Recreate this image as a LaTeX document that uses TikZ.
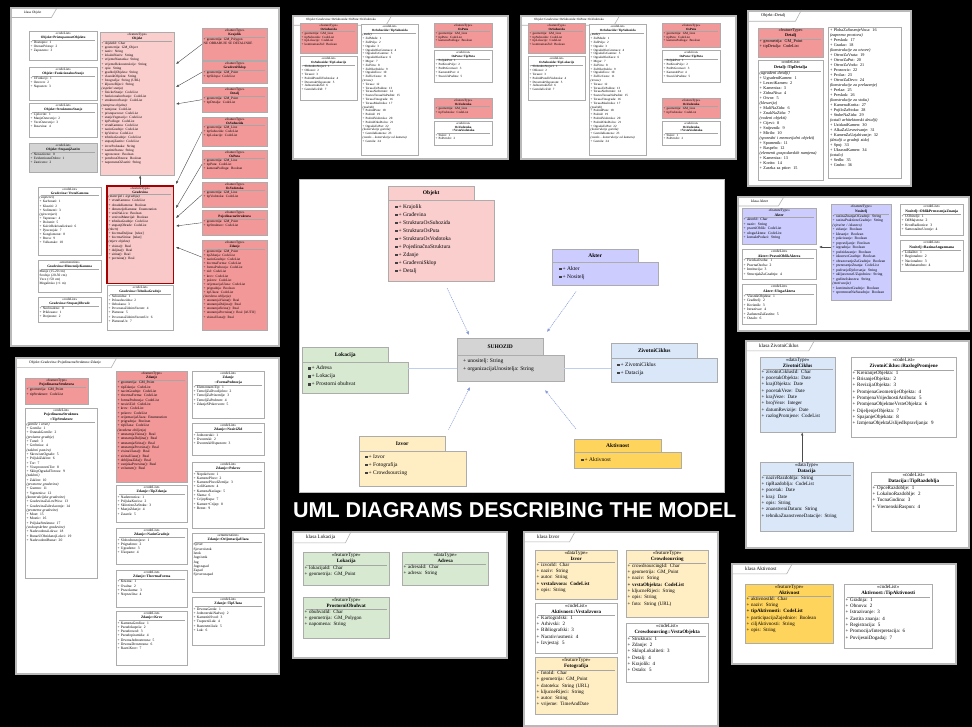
\documentclass[tikz,border=0pt]{standalone}
\usepackage{fontspec}
\setmainfont{Liberation Serif}
\newfontfamily\titlefont{Liberation Sans}
\usetikzlibrary{positioning, arrows.meta}

\definecolor{objpink}{RGB}{251,206,206}
\definecolor{featred}{RGB}{243,152,152}
\definecolor{lightred}{RGB}{249,200,200}
\definecolor{akterlav}{RGB}{204,204,255}
\definecolor{suhgray}{RGB}{212,212,212}
\definecolor{lokgreen}{RGB}{216,233,210}
\definecolor{zivblue}{RGB}{218,231,248}
\definecolor{izvyel}{RGB}{255,238,196}
\definecolor{aktgold}{RGB}{255,212,92}
\definecolor{depblue}{RGB}{80,110,200}
\definecolor{linkblue}{RGB}{190,208,235}

\newcommand\pkgico{\textcolor{black!75}{\rule[0.3pt]{2.6pt}{2.2pt}}\,}

\begin{document}
\begin{tikzpicture}[x=1pt, y=-1pt,
  panel/.style={draw=gray!55, line width=1.6pt, fill=white, anchor=north west, inner sep=0pt},
  pnltab/.style={anchor=north west, inner xsep=14pt, inner ysep=3.5pt},
  pnlline/.style={draw=gray!60, line width=0.6pt},
  clsbox/.style={draw=gray!65, anchor=north west, inner sep=0pt},
  clshead/.style={anchor=north, align=center, inner sep=0.8pt},
  clsitems/.style={anchor=north, align=left, inner sep=0.8pt},
  clsrule/.style={draw=gray!70, line width=0.3pt},
  gen/.style={draw=black!70, line width=0.4pt, -{Latex[length=3pt, width=2.4pt]}},
  pkgtab/.style={draw=gray!65, anchor=north west, inner sep=0pt, font=\fontsize{5.5}{6}\selectfont\bfseries},
  pkgbody/.style={draw=gray!65, anchor=north west, inner sep=0pt},
  pkgitems/.style={anchor=north west, align=left, inner sep=0pt},
  dep/.style={draw=depblue!70, line width=0.5pt, dash pattern=on 1.2pt off 0.8pt, -{Latex[length=3.5pt, width=3pt]}},
  link/.style={draw=linkblue, line width=0.8pt}
]
  % panel frame with its name tab
  \def\pnl#1#2#3#4#5{%
    \node[panel, minimum width=#3, minimum height=#4] (#1) at (#2) {};
    \node[pnltab] (#1t) at (#1.north west) {#5};
    \draw[pnlline] (#1t.south west) -- ([xshift=-4pt]#1t.south east) -- ([xshift=2pt]#1t.north east);
  }
  % class box: name, corner, width, height, fill, stereotype, title, items
  \def\cls#1#2#3#4#5#6#7#8{%
    \pgfmathsetmacro\tw{#3-3}%
    \node[clsbox, fill=#5, minimum width=#3, minimum height=#4] (#1) at (#2) {};
    \node[clshead, text width=\tw pt] (#1h) at (#1.north) {«#6»\\\bfseries #7};
    \draw[clsrule] ([xshift=2pt]#1h.south west) -- ([xshift=-2pt]#1h.south east);
    \node[clsitems, text width=\tw pt] (#1i) at (#1h.south) {#8};
  }

  \fill[black] (0,0) rectangle (972,727);
  \useasboundingbox (0,0) rectangle (972,727);

  % klasa Objekt
  \begin{scope}[font=\fontsize{3.4}{4.1}\selectfont]
    \pnl{pObj}{10,7}{268}{338}{klasa Objekt}
    \cls{oPris}{29,31}{68}{29}{white}{codeList}{Objekt::PristupacnostObjektu}{+ Dostupno: 1\\+ OtezanPristup: 2\\+ Zapusteno: 3}
    \cls{oFunk}{29,67}{68}{33}{white}{codeList}{Objekt::FunkcionalnoStanje}{+ UFunkciji: 1\\+ Ostecen: 2\\+ Napusten: 3}
    \cls{oStru}{29,103}{68}{34}{white}{codeList}{Objekt::StrukturnoStanje}{+ Cjelovito: 1\\+ ManjeOstecenje: 2\\+ VeceOstecenje: 3\\+ Rusevina: 4}
    \cls{oZast}{29,143}{68}{29}{suhgray}{codeList}{Objekt::StupanjZastite}{+ Nezasticeno: 0\\+ EvidentiranoDobro: 1\\+ Zasticeno: 2}
    \cls{oObj}{100,32}{74}{143}{objpink}{featureType}{Objekt}{+ objektId: Char\\+ geometrija: GM\_Object\\+ naziv: String\\+ lokalniNaziv: String\\+ vrijemeNastanka: String\\+ vrijemeRekonstrukcije: String\\+ opis: String\\+ graditeljObjekta: String\\+ vlasnikObjekta: String\\+ fotografija: String (URL)\\+ kljucneRijeci: String\\\textit{(aspekti stanja)}\\+ fizickoStanje: CodeList\\+ funkcionalnoStanje: CodeList\\+ strukturnoStanje: CodeList\\\textit{(namjena objekta)}\\+ namjena: CodeList\\+ pristupacnost: CodeList\\+ stanjeVegetacije: CodeList\\+ tipPodloge: CodeList\\+ vrstaKamena: CodeList\\+ nacinGradnje: CodeList\\+ tipVeziva: CodeList\\+ tehnikaGradnje: CodeList\\+ stupanjZastite: CodeList\\+ izvorPodataka: String\\+ zastitniStatus: String\\+ ugrozenost: Boolean\\+ potrebnaObnova: Boolean\\+ napomenaOZastiti: String}
    \cls{oGrad}{107,186}{66}{97}{lightred}{featureType}{Gradevina}{\textit{(materijal i izgradnja)}\\+ vrstaKamena: CodeList\\+ obradaKamena: Boolean\\+ dimenzijeKamena: Enumeration\\+ veziNaLicu: Boolean\\+ vezivniMaterijal: Boolean\\+ tehnikaGradnje: CodeList\\+ stupanjObrade: CodeList\\\textit{(tlocrt)}\\+ tlocrtnaDuljina: [tekst]\\+ tlocrtnaSirina: [tekst]\\\textit{(mjere objekta)}\\+ visina(): Real\\+ duljina(): Real\\+ sirina(): Real\\+ povrsina(): Real}
    \draw[red!65!black, line width=1.4pt] (oGrad.north west) rectangle (oGrad.south east);
    \cls{gVrst}{38,187}{63}{68}{white}{codeList}{Gradevina::VrstaKamena}{\textit{(vapnenci)}\\+ Karbonati: 1\\+ Klastiti: 2\\+ Sedimenti: 3\\\textit{(pjescenjaci)}\\+ Vapnenac: 4\\+ Dolomit: 5\\+ KalcitRekristalizirani: 6\\+ Pjescenjak: 7\\+ Konglomerat: 8\\+ Breca: 9\\+ Vulkanske: 10}
    \cls{gDim}{38,260}{63}{32}{white}{enumeration}{Gradevina::DimenzijeKamena}{Manje (15-20 cm)\\Srednje (20-50 cm)\\Vece (>50 cm)\\Megalitsko (>1 m)}
    \cls{gStup}{38,297}{63}{25}{white}{codeList}{Gradevina::StupanjObrade}{+ Neobradeno: 0\\+ Priklesano: 1\\+ Dotjerano: 2}
    \cls{gTeh}{107,285}{66}{45}{white}{codeList}{Gradevina::TehnikaGradnje}{+ Suhozidna: 1\\+ Polusuhozidna: 2\\+ Ozbukana: 3\\+ PovezanaZidnimVezom: 4\\+ Platnena: 5\\+ PovezanaZidnimVezomUz: 6\\+ PlatnenaUz: 7}
    \cls{rKraj}{202,28}{65}{32}{featred}{featureType}{Krajolik}{+ geometrija: GM\_Polygon\\NE OBRAĐUJE SE DETALJNIJE}
    \cls{rSklop}{202,61}{65}{22}{featred}{featureType}{GradevniSklop}{+ geometrija: GM\_Point\\+ tipSklopa: CodeList}
    \cls{rDet}{202,87}{65}{25}{featred}{featureType}{Detalj}{+ geometrija: GM\_Point\\+ tipDetalja: CodeList}
    \cls{rSuh}{202,117}{65}{29}{featred}{featureType}{OsSuhozida}{+ geometrija: GM\_Line\\+ tipSuhozida: CodeList\\+ tipLokacije: CodeList}
    \cls{rPut}{202,150}{65}{28}{featred}{featureType}{OsPuta}{+ geometrija: GM\_Line\\+ tipPuta: CodeList\\+ kamenaPodloga: Boolean}
    \cls{rVod}{202,182}{65}{25}{featred}{featureType}{OsVodotoka}{+ geometrija: GM\_Line\\+ tipVodotoka: CodeList}
    \cls{rPoj}{202,210}{65}{25}{featred}{featureType}{PojedinacnaStruktura}{+ geometrija: GM\_Point\\+ tipStrukture: CodeList}
    \cls{rZdan}{202,240}{65}{90}{featred}{featureType}{Zdanje}{+ geometrija: GM\_Point\\+ tipZdanja: CodeList\\+ nacinGradnje: CodeList\\+ tlocrtnaForma: CodeList\\+ formaPodnozja: CodeList\\+ zid: CodeList\\+ krov: CodeList\\+ pokrov: CodeList\\+ orijentacijaUlaza: CodeList\\+ prigradnja: Boolean\\+ tipUlaza: CodeList\\\textit{(izvedena obiljezja)}\\+ unutarnjaVisina(): Real\\+ unutarnjaDuljina(): Real\\+ unutarnjaSirina(): Real\\+ unutarnjaPovrsina(): Real [AUTO]\\+ visinaUlaza(): Real}
    \coordinate (kr1) at (176,64);
    \coordinate (kr2) at (176,87);
    \coordinate (kr3) at (176,104);
    \coordinate (gr1) at (176,184);
    \coordinate (gr2) at (176,208);
    \coordinate (gr3) at (176,218);
    \coordinate (gr4) at (176,226);
    \coordinate (gr5) at (176,247);
    \draw[gen] (rKraj.west) -- (kr1);
    \draw[gen] (rSklop.west) -- (kr2);
    \draw[gen] (rDet.west) -- (kr3);
    \draw[gen] (rSuh.west) -- (gr1);
    \draw[gen] (rPut.west) -- (gr2);
    \draw[gen] (rVod.west) -- (gr3);
    \draw[gen] (rPoj.west) -- (gr4);
    \draw[gen] ([yshift=28pt]rZdan.west) -- (gr5);
    \draw[gen] (oGrad.north) -- (oGrad.north |- oObj.south);
  \end{scope}

  % the two Os... panels
  \begin{scope}[font=\fontsize{3.2}{3.8}\selectfont]
    \foreach \dx/\p in {0/a, 228/b} {
      \pnl{\p P}{{292+\dx},15}{215}{143}{Objekt::Gradevina::OsSuhozida::OsPuta::OsVodotoka}
      \cls{\p Suh}{{300+\dx},23}{57}{30}{featred}{featureType}{OsSuhozida}{+ geometrija: GM\_Line\\+ tipSuhozida: CodeList\\+ tipLokacije: CodeList\\+ kontinuiranZid: Boolean}
      \cls{\p Lok}{{300+\dx},56}{57}{44}{white}{codeList}{OsSuhozida::TipLokacije}{+ SlobodnoStojeci: 1\\+ Oblozni: 2\\+ Terasni: 3\\+ PodzidPutaIliVodotoka: 4\\+ DvostrukiSIspunom: 5\\+ JednostrukiZid: 6\\+ GomilaUzZid: 7}
      \cls{\p Tip}{{361+\dx},24}{57}{131}{white}{codeList}{OsSuhozida::TipSuhozida}{\textit{(mede)}\\+ ZidMede: 1\\+ ZidPolja: 2\\+ Ograda: 3\\+ OgradaOkoGromace: 4\\+ OgradaUzGumno: 5\\+ OgradaOkoKuce: 6\\+ Mrgar: 7\\+ ZidVrta: 8\\+ ZidOkoStabla: 9\\+ OgradaTora: 10\\+ ZidUzCestu: 11\\\textit{(terase)}\\+ Terasa: 12\\+ TerasaUzPadinu: 13\\+ TerasaNaStrmini: 14\\+ SustavTerasaNaPadini: 15\\+ TerasaVinograda: 16\\+ TerasaMaslinika: 17\\\textit{(podzidi)}\\+ PodzidPuta: 18\\+ Podzid: 19\\+ PodzidVodotoka: 20\\+ PodzidOkoDolca: 21\\+ OgradaUzPut: 22\\\textit{(konstrukcije gomila)}\\+ GomilaKamena: 23\\\textit{(ostalo - konstrukcije od kamena)}\\+ Gomila: 24}
      \cls{\p Put}{{434+\dx},23}{58}{24}{featred}{featureType}{OsPuta}{+ geometrija: GM\_Line\\+ tipPuta: CodeList\\+ kamenaPodloga: Boolean}
      \cls{\p PutT}{{434+\dx},50}{58}{32}{white}{codeList}{OsPuta::TipPuta}{+ PoljskiPut: 1\\+ PutKrozPolje: 2\\+ PutPoGromaci: 3\\+ KamenitiPut: 4\\+ StazaUzPadinu: 5}
      \cls{\p Vod}{{434+\dx},98}{58}{20}{featred}{featureType}{OsVodotoka}{+ geometrija: GM\_Line\\+ tipVodotoka: CodeList}
      \cls{\p VodT}{{434+\dx},121}{58}{24}{white}{codeList}{OsVodotoka\\::VrstaVodotoka}{+ Stalni: 1\\+ PoPotrebi: 2}
    }
  \end{scope}

  % Objekt::Detalj
  \begin{scope}[font=\fontsize{4.2}{5}\selectfont]
    \pnl{pDet}{747,10}{163}{175}{Objekt::Detalj}
    \cls{dDet}{758,28}{65}{29}{featred}{featureType}{Detalj}{+ geometrija: GM\_Point\\+ tipDetalja: CodeList}
    \cls{dTip}{758,60}{65}{120}{white}{codeList}{Detalj::TipDetalja}{\textit{(ugradeni detalji)}\\+ UgradeniKamen: 1\\+ LezeciKamen: 2\\+ Kamenica: 3\\+ ZidnaNisa: 4\\+ Otvor: 5\\\textit{(klesarija)}\\+ MaliNaZidu: 6\\+ ZnakNaZidu: 7\\\textit{(vodeni objekti)}\\+ Cijevi: 8\\+ Snijeznik: 9\\+ Mirilo: 10\\\textit{(sporedni i memorijalni objekti)}\\+ Spomenik: 11\\+ Raspelo: 12\\\textit{(elementi gospodarskih namjena)}\\+ Kamenica: 13\\+ Korito: 14\\+ Zaseka za ptice: 15}
    \node[clsbox, fill=white, minimum width=73, minimum height=151] (dTip2) at (828,27) {};
    \node[clsitems, anchor=north west, text width=70pt] (dTip2i) at ([shift={(1pt,-1pt)}]dTip2.north west) {+ PlohaZaSusenjeVoca: 16\\\textit{(zaprema prostora)}\\+ Preskok: 17\\+ Gradac: 18\\\textit{(konstrukcije za otvore)}\\+ OtvorZaVrata: 19\\+ OtvorZaPut: 20\\+ OtvorZaVodu: 21\\+ Prozorcic: 22\\+ Prolaz: 23\\+ OtvorZaDrvo: 24\\\textit{(konstrukcije za prelazenje)}\\+ Prelaz: 25\\+ Preskok: 26\\\textit{(konstrukcije za stoku)}\\+ KamenaKorita: 27\\+ PojiloZaStoku: 28\\+ StubeNaZidu: 29\\\textit{(ostali arhitektonski detalji)}\\+ UzidaniKamen: 30\\+ AlkaZaUzvezivanje: 31\\+ KamenZaUzjahivanje: 32\\\textit{(detalji u gradnji zida)}\\+ Spoj: 33\\+ UkrasniKamen: 34\\\textit{(ostalo)}\\+ Sedlo: 35\\+ Grubo: 36};
  \end{scope}

  % klasa Akter
  \begin{scope}[font=\fontsize{3.7}{4.5}\selectfont]
    \pnl{pAkt}{737,196}{231}{134}{klasa Akter}
    \cls{kAkt}{742,208}{74}{36}{akterlav}{featureType}{Akter}{+ akterId: Char\\+ naziv: String\\+ pravniOblik: CodeList\\+ ulogaAktera: CodeList\\+ kontaktPodaci: String}
    \cls{kPrav}{742,249}{74}{30}{white}{codeList}{Akter::PravniOblikAktera}{+ FizickaOsoba: 1\\+ PravnaOsoba: 2\\+ Institucija: 3\\+ StrucnjakZaGradnju: 4}
    \cls{kUlo}{742,284}{74}{40}{white}{codeList}{Akter::UlogaAktera}{+ VlasnikObjekta: 1\\+ Graditelj: 2\\+ Korisnik: 3\\+ Istrazivac: 4\\+ ZaduzenZaZastitu: 5\\+ Ostalo: 6}
    \cls{kNos}{831,204}{60}{96}{akterlav}{featureType}{Nositelj}{+ razinaZnanjaOGradnji: String\\+ razinaPrakticneGradnje: String\\\textit{(vjestine / iskustvo)}\\+ zidanje: Boolean\\+ klesanje: Boolean\\+ pokrivanje: Boolean\\+ popravljanje: Boolean\\+ izgradnja: Boolean\\+ podzidavanje: Boolean\\+ iskustvoGradnje: Boolean\\+ obrazovanjeZaGradnju: Boolean\\+ prenosenjeZnanja: CodeList\\+ podrucjeDjelovanja: String\\+ ukljucenostUZajednicu: String\\+ godineIskustva: String\\\textit{(motivacija)}\\+ kontinuitetGradnje: Boolean\\+ spremnostNaSuradnju: Boolean}
    \cls{kN1}{900,204}{63}{31}{white}{codeList}{Nositelj::OblikPrenosenjaZnanja}{+ UObitelji: 1\\+ OdMajstora: 2\\+ KrozRadionice: 3\\+ SamostalnoUcenje: 4}
    \cls{kN2}{900,240}{63}{31}{white}{codeList}{Nositelj::RazinaAngazmana}{+ Lokalno: 1\\+ Regionalno: 2\\+ Nacionalno: 3\\+ Medunarodno: 4}
    \coordinate (kArr) at (819,247);
    \draw[gen] (kArr -| kNos.west) -- (kArr);
  \end{scope}

  % klasa ZivotniCiklus
  \begin{scope}[font=\fontsize{5}{6.3}\selectfont]
    \pnl{pZiv}{745,340}{223}{207}{klasa ZivotniCiklus}
    \cls{zZiv}{760,357}{75}{75}{zivblue}{dataType}{ZivotniCiklus}{+ zivotniCiklusId: Char\\+ pocetakObjekta: Date\\+ krajObjekta: Date\\+ pocetakVeze: Date\\+ krajVeze: Date\\+ brojVeze: Integer\\+ datumRevizije: Date\\+ razlogPromjene: CodeList}
    \cls{zRaz}{851,357}{105}{80}{white}{codeList}{ZivotniCiklus::RazlogPromjene}{+ KreiranjeObjekta: 1\\+ BrisanjeObjekta: 2\\+ RevizijaObjekta: 3\\+ PromjenaGeometrijeObjekta: 4\\+ PromjenaVrijednostiAtributa: 5\\+ PromjenaObjektneVrsteObjekta: 6\\+ DijeljenjeObjekta: 7\\+ SpajanjeObjekata: 8\\+ IzmjenaObjektaUslijedIspravljanja: 9}
    \cls{zDat}{760,462}{93}{69}{zivblue}{dataType}{Datacija}{+ nazivRazdoblja: String\\+ tipRazdoblja: CodeList\\+ pocetak: Date\\+ kraj: Date\\+ opis: String\\+ znanstveniDatum: String\\+ tehnikaZnanstveneDatacije: String}
    \cls{zTip}{871,472}{85}{59}{white}{codeList}{Datacija::TipRazdoblja}{+ OpceRazdoblje: 1\\+ LokalnoRazdoblje: 2\\+ TocnaGodina: 3\\+ VremenskiRaspon: 4}
    \draw[gen] ([xshift=-4.5pt]zDat.north) -- ([xshift=-4.5pt]zDat.north |- zZiv.south);
  \end{scope}

  % klasa Aktivnost
  \begin{scope}[font=\fontsize{5}{6.3}\selectfont]
    \pnl{pAkv}{731,563}{224}{100}{klasa Aktivnost}
    \cls{tAkt}{745,584}{88}{59}{aktgold}{featureType}{Aktivnost}{+ aktivnostId: Char\\+ naziv: String\\\textbf{+ tipAktivnosti: CodeList}\\+ participacijaZajednice: Boolean\\+ ciljAktivnosti: String\\+ opis: String}
    \cls{tTip}{844,584}{88}{64}{white}{codeList}{Aktivnost::TipAktivnosti}{+ Gradnja: 1\\+ Obnova: 2\\+ Istrazivanje: 3\\+ Zastita znanja: 4\\+ Registracija: 5\\+ Promocija/Interpretacija: 6\\+ PovijesniDogadaj: 7}
  \end{scope}

  % Zdanje
  \begin{scope}[font=\fontsize{3.6}{4.3}\selectfont]
    \pnl{pZd}{15,357}{263}{316}{Objekt::Gradevina::PojedinacnaStruktura::Zdanje}
    \cls{sPoj}{25,378}{63}{26}{featred}{featureType}{PojedinacnaStruktura}{+ geometrija: GM\_Point\\+ tipStrukture: CodeList}
    \cls{sTip}{25,408}{72}{170}{white}{codeList}{PojedinacnaStruktura\\::TipStrukture}{\textit{(gomile i ceste)}\\+ Gomila: 1\\+ OstatakGomile: 2\\\textit{(prolazne gradnje)}\\+ Tunel: 3\\+ Grobnica: 4\\\textit{(zakloni pastira)}\\+ SkrovisteOgrade: 5\\+ PoljskiZaklon: 6\\+ Tor: 7\\+ ViseprostorniTor: 8\\+ SklopOgradaITorova: 9\\\textit{(zakloni)}\\+ Zaklon: 10\\\textit{(prostorne gradevine)}\\+ Gumno: 11\\+ Vapnenica: 12\\\textit{(konstrukcijske gradevine)}\\+ GradevinaZaLovPtica: 13\\+ GradevinaZaIzvlacenje: 14\\\textit{(prometne gradevine)}\\+ Most: 15\\+ Mostic: 16\\+ PoljskaStruktura: 17\\\textit{(vodoopskrbne gradevine)}\\+ NadsvodenaLokva: 18\\+ BunarUObzidanojLokvi: 19\\+ NadsvodeniBunar: 20}
    \cls{sZdan}{116,371}{71}{111}{featred}{featureType}{Zdanje}{+ geometrija: GM\_Point\\+ tipZdanja: CodeList\\+ nacinGradnje: CodeList\\+ tlocrtnaForma: CodeList\\+ formaPodnozja: CodeList\\+ nosiviZid: CodeList\\+ krov: CodeList\\+ pokrov: CodeList\\+ orijentacijaUlaza: Enumeration\\+ prigradnja: Boolean\\+ tipUlaza: CodeList\\\textit{(izvedena obiljezja)}\\+ unutarnjaVisina(): Real\\+ unutarnjaDuljina(): Real\\+ unutarnjaSirina(): Real\\+ unutarnjaPovrsina(): Real\\+ visinaUlaza(): Real\\+ sirinaUlaza(): Real\\+ debljinaZida(): Real\\+ vanjskaPovrsina(): Real\\+ volumen(): Real}
    \cls{sTipZ}{116,485}{71}{37}{white}{codeList}{Zdanje::TipZdanja}{+ Nadstresnica: 1\\+ PoljskaKucica: 2\\+ SklonisteZaStoku: 3\\+ ManjeZdanje: 4\\+ Zaseok: 5}
    \cls{sNac}{116,528}{71}{36}{white}{codeList}{Zdanje::NacinGradnje}{+ Slobodnostojece: 1\\+ Prigradeno: 2\\+ Ugradeno: 3\\+ Ukopano: 4}
    \cls{sTlo}{116,570}{71}{37}{white}{codeList}{Zdanje::TlocrtnaForma}{+ Kruzna: 1\\+ Ovalna: 2\\+ Pravokutna: 3\\+ Nepravilna: 4}
    \cls{sKrov}{116,611}{71}{54}{white}{codeList}{Zdanje::Krov}{+ KamenaGredica: 1\\+ Pseudokupola: 2\\+ Pseudosvod: 3\\+ Pseudopiramida: 4\\+ DrvenaJednostresna: 5\\+ DrvenaDvostresna: 6\\+ RavniKrov: 7}
    \cls{sForm}{192,371}{72}{47}{white}{codeList}{Zdanje\\::FormaPodnozja}{+ ElementarniTip: 1\\+ TemeljZaDvodijelno: 2\\+ TemeljZaPrizemlje: 3\\+ TemeljZaPodrum: 4\\+ ZdanjeSPokrovom: 5}
    \cls{sNos}{192,423}{72}{32}{white}{codeList}{Zdanje::NosiviZid}{+ Jednostruki: 1\\+ Dvostruki: 2\\+ DvostrukiSIspunom: 3}
    \cls{sPok}{192,462}{72}{66}{white}{codeList}{Zdanje::Pokrov}{+ Nepokriven: 1\\+ KamenePloce: 2\\+ KamenePloceIZemlja: 3\\+ GoliKamen: 4\\+ KamenaNaslaga: 5\\+ Slama: 6\\+ CrijepKupa: 7\\+ Kamen+Crijep: 8\\+ Beton: 9}
    \cls{sOri}{192,533}{72}{59}{white}{enumeration}{Zdanje::OrijentacijaUlaza}{Sjever\\Sjeveroistok\\Istok\\Jugoistok\\Jug\\Jugozapad\\Zapad\\Sjeverozapad}
    \cls{sTipU}{192,597}{72}{48}{white}{codeList}{Zdanje::TipUlaza}{+ DrvenaGreda: 1\\+ JednostrukiNadvoj: 2\\+ KamenitiSvod: 3\\+ TrapezniLuk: 4\\+ RasteretniLuk: 5\\+ Luk: 6}
  \end{scope}

  % klasa Lokacija
  \begin{scope}[font=\fontsize{5}{6.3}\selectfont]
    \pnl{pLok}{292,531}{214}{126}{klasa Lokacija}
    \cls{lLok}{303,552}{86}{33}{lokgreen}{featureType}{Lokacija}{+ lokacijaId: Char\\+ geometrija: GM\_Point}
    \cls{lAdr}{402,552}{86}{33}{lokgreen}{dataType}{Adresa}{+ adresaId: Char\\+ adresa: String}
    \cls{lObu}{303,597}{86}{41}{lokgreen}{featureType}{ProstorniObuhvat}{+ obuhvatId: Char\\+ geometrija: GM\_Polygon\\+ napomena: String}
  \end{scope}

  % klasa Izvor
  \begin{scope}[font=\fontsize{5}{6.3}\selectfont]
    \pnl{pIzv}{523,531}{194}{194}{klasa Izvor}
    \cls{iIzv}{535,550}{82}{49}{izvyel}{dataType}{Izvor}{+ izvorId: Char\\+ naziv: String\\+ autor: String\\\textbf{+ vrstaIzvora: CodeList}\\+ opis: String}
    \cls{iVrs}{535,603}{82}{50}{white}{codeList}{Aktivnost::VrstaIzvora}{+ Kartografski: 1\\+ Arhivski: 2\\+ Bibliografski: 3\\+ Narativ/usmeni: 4\\+ Izvjestaj: 5}
    \cls{iFot}{535,657}{82}{57}{izvyel}{featureType}{Fotografija}{+ fotoId: Char\\+ geometrija: GM\_Point\\+ datoteka: String (URL)\\+ kljucneRijeci: String\\+ autor: String\\+ vrijeme: TimeAndDate}
    \cls{iCro}{626,550}{82}{67}{izvyel}{featureType}{Crowdsourcing}{+ crowdsourcingId: Char\\+ geometrija: GM\_Point\\+ naziv: String\\\textbf{+ vrstaObjekta: CodeList}\\+ kljucneRijeci: String\\+ opis: String\\+ foto: String (URL)}
    \cls{iCroT}{626,623}{82}{59}{white}{codeList}{Crowdsourcing::VrstaObjekta}{+ Struktura: 1\\+ Zdanje: 2\\+ SklopLokaliteti: 3\\+ Detalj: 4\\+ Krajolik: 4\\+ Ostalo: 5}
  \end{scope}

  % central package diagram
  \begin{scope}[font=\fontsize{5.5}{8}\selectfont]
    \node[draw=gray!50, fill=white, anchor=north west, inner sep=0pt, minimum width=425, minimum height=313] (canvas) at (299,179) {};
    \node[pkgtab, fill=objpink, minimum width=86, minimum height=14] (objT) at (388,186) {Objekt};
    \node[pkgbody, fill=objpink, minimum width=106, minimum height=81] (objB) at (objT.south west) {};
    \node[pkgitems] (objI) at ([shift={(7pt,-4pt)}]objB.north west) {\pkgico+ Krajolik\\\pkgico+ Građevina\\\pkgico+ StrukturaOsSuhozida\\\pkgico+ StrukturaOsPuta\\\pkgico+ StrukturaOsVodotoka\\\pkgico+ PojedinačnaStruktura\\\pkgico+ Zdanje\\\pkgico+ GrađevniSklop\\\pkgico+ Detalj};
    \node[pkgtab, fill=akterlav, minimum width=86, minimum height=13] (akT) at (552,249) {Akter};
    \node[pkgbody, fill=akterlav, minimum width=106, minimum height=23] (akB) at (akT.south west) {};
    \node[pkgitems] (akI) at ([shift={(7pt,-4pt)}]akB.north west) {\pkgico+ Akter\\\pkgico+ Nositelj};
    \node[pkgtab, fill=suhgray, minimum width=86, minimum height=17] (suT) at (457,338) {SUHOZID};
    \node[pkgbody, fill=suhgray, minimum width=107, minimum height=26] (suB) at (suT.south west) {};
    \node[pkgitems, font=\fontsize{5.5}{7.3}\selectfont] (suI) at ([shift={(6pt,-3.5pt)}]suB.north west) {+ unositelj: String\\+ organizacijaUnositelja: String};
    \node[pkgtab, fill=lokgreen, minimum width=86, minimum height=15] (lokT) at (302,347) {Lokacija};
    \node[pkgbody, fill=lokgreen, minimum width=106, minimum height=31] (lokB) at (lokT.south west) {};
    \node[pkgitems] (lokI) at ([shift={(6pt,-3.5pt)}]lokB.north west) {\pkgico+ Adresa\\\pkgico+ Lokacija\\\pkgico+ Prostorni obuhvat};
    \node[pkgtab, fill=zivblue, minimum width=86, minimum height=15] (zivT) at (611,343) {ZivotniCiklus};
    \node[pkgbody, fill=zivblue, minimum width=106, minimum height=24] (zivB) at (zivT.south west) {};
    \node[pkgitems] (zivI) at ([shift={(6pt,-4pt)}]zivB.north west) {\pkgico+ ZivotniCiklus\\\pkgico+ Datacija};
    \node[pkgtab, fill=izvyel, minimum width=86, minimum height=15] (izT) at (359,436) {Izvor};
    \node[pkgbody, fill=izvyel, minimum width=107, minimum height=35] (izB) at (izT.south west) {};
    \node[pkgitems] (izI) at ([shift={(6pt,-3.5pt)}]izB.north west) {\pkgico+ Izvor\\\pkgico+ Fotografija\\\pkgico+ Crowdsourcing};
    \node[pkgtab, fill=aktgold, minimum width=87, minimum height=13] (akvT) at (574,439) {Aktivnost};
    \node[pkgbody, fill=aktgold, minimum width=107, minimum height=16] (akvB) at (akvT.south west) {};
    \node[pkgitems] (akvI) at ([shift={(7pt,-5pt)}]akvB.north west) {\pkgico+ Aktivnost};
    \coordinate (cO) at (469,335);
    \coordinate (cA) at (547,332);
    \coordinate (cI) at (470,387);
    \coordinate (cK) at (545,390);
    \draw[dep, shorten <=7pt] ([xshift=3pt]objB.south) -- (cO);
    \draw[dep, shorten <=7pt] ([xshift=-25pt]akB.south) -- (cA);
    \draw[dep, shorten <=7pt] (izT.north east) -- (cI);
    \draw[dep, shorten <=13pt] ([xshift=10pt]akvT.north west) -- (cK);
    \draw[link] (lokB.east |- suB.west) -- (suB.west);
    \draw[link] (suB.east) -- (suB.east -| zivB.west);
  \end{scope}

  \node[anchor=base west, text=white, font=\titlefont\bfseries\fontsize{21.5}{24}\selectfont, inner sep=0pt] (title) at (293,517) {UML DIAGRAMS DESCRIBING THE MODEL};
\end{tikzpicture}
\end{document}
